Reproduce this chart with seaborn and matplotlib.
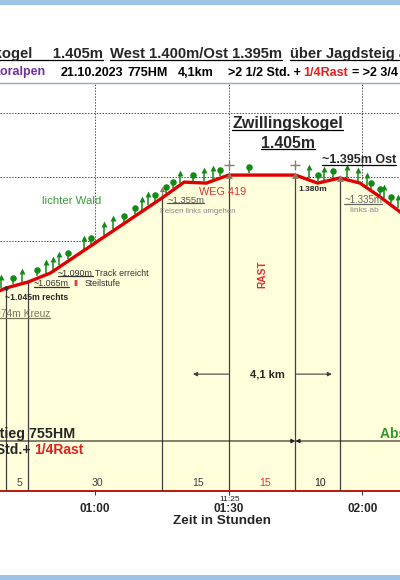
import matplotlib.pyplot as plt
from matplotlib.lines import Line2D
from matplotlib.patches import Rectangle
import numpy as np
import pandas as pd
import seaborn as sns

# Hoehenprofil: Gehzeit in Minuten, Hoehe in Metern
profile_min = [38.5, 40, 45, 50, 61, 75, 80, 85, 90, 105, 110, 115, 119.5, 124, 128.5, 132]
profile_elev = [1044, 1053, 1072, 1100, 1203, 1334, 1384, 1381, 1406, 1406, 1381, 1397, 1381, 1338, 1291, 1255]

# Wegpunkte mit senkrechten Linien
event_min = [40, 45, 75, 90, 105, 115]
event_elev = [1053, 1072, 1334, 1406, 1406, 1397]
segment_labels = ['5', '30', '15', '15', '10']
segment_colors = ['#404040', '#404040', '#404040', '#E03030', '#202020']

tick_min = [60, 90, 120]
tick_labels = ['01:00', '01:30', '02:00']
grid_elev = [1200, 1400, 1600]

# Baeume entlang des Weges
conifer_min = [39, 43.5, 49, 50.5, 52, 57.5, 62, 64, 70.5, 72, 79, 84.5, 86.5,
               108, 111.5, 116.5, 119, 121, 125, 128]
leafy_min = [41.5, 47, 54, 59, 66.5, 69, 73.5, 76, 77.5, 82, 88, 94.5,
             110, 113.5, 122, 124, 126.5]

summit_min = [90, 105]
summit_elev = [1406, 1406]

RED = '#E00000'
GREEN = '#138A13'
MARK = '#8A7A6A'
DARK = '#404040'

sns.set_theme(style='white')
plt.rcParams['font.family'] = ['Liberation Sans', 'DejaVu Sans']

fig = plt.figure(figsize=(4, 5.8), dpi=100)
fig.patch.set_facecolor('white')
W, H = 400, 580
ax = fig.add_axes([0, 89 / H, 1, 408 / H])
y0, y1 = 418.75, 1693.75
ax.set_xlim(38.667, 128.488)
ax.set_ylim(y0, y1)
ax.set_facecolor('white')

df = pd.DataFrame({'min': profile_min, 'elev': profile_elev})
ax.fill_between(df['min'], df['elev'], y0, color='#FFFFDC', lw=0, zorder=1)
sns.lineplot(data=df, x='min', y='elev', color=RED, lw=2.4, ax=ax, zorder=6)

ax.set_xticks(tick_min, labels=tick_labels)
ax.set_yticks(grid_elev)
ax.grid(True, linestyle=(0, (1.5, 1.5)), color='#505050', linewidth=0.7)
ax.set_axisbelow(True)
ax.tick_params(axis='y', left=False, labelleft=False)
ax.tick_params(axis='x', bottom=True, direction='out', length=3, width=0.8,
               color=DARK, labelsize=8.5, pad=6)
for lab in ax.get_xticklabels():
    lab.set_fontweight('bold')
ax.set_xlabel('')
ax.set_ylabel('')
ax.spines['left'].set_visible(False)
ax.spines['right'].set_visible(False)
ax.spines['top'].set_color('#8FA8C8')
ax.spines['top'].set_linewidth(1)
ax.spines['bottom'].set_color('#C00000')
ax.spines['bottom'].set_linewidth(1.3)

ax.vlines(event_min, y0, event_elev, color=DARK, lw=0.9, zorder=3)
ax.vlines([75], 1334, 1362, color=MARK, lw=0.9, zorder=5)
ax.scatter([75], [1362], marker='^', s=14, color=MARK, lw=0, zorder=5)
ax.scatter(event_min[3:], event_elev[3:], marker='^', s=24, color=MARK, lw=0, zorder=7)
ax.scatter(event_min[:1], event_elev[:1], marker='o', s=10, color='#303030', lw=0, zorder=7)
ax.scatter(summit_min, np.array(summit_elev) + 31, marker='+', s=50, color=MARK, lw=1, zorder=7)

con_base = np.interp(conifer_min, profile_min, profile_elev) + 6
ax.vlines(conifer_min, con_base, con_base + 34, color=GREEN, lw=1.1, zorder=5)
ax.scatter(conifer_min, con_base + 34, marker='^', s=18, color=GREEN, lw=0, zorder=5)
leaf_base = np.interp(leafy_min, profile_min, profile_elev) + 6
ax.vlines(leafy_min, leaf_base, leaf_base + 14, color=GREEN, lw=1.1, zorder=5)
ax.scatter(leafy_min, leaf_base + 19, marker='o', s=22, color=GREEN, lw=0, zorder=5)

underlined = []


def label(x, y, s, ul=None, **kw):
    kw.setdefault('va', 'center')
    t = ax.text(x, y, s, zorder=8, **kw)
    if ul:
        underlined.append((t, ul))
    return t


label(54.8, 1325, 'lichter Wald', color='#3A9A3A', fontsize=8.2, ha='center')
label(39.8, 1025, '~1.045m rechts', fontsize=6.2, weight='bold')
label(49.9, 972, '~974m Kreuz', ul='#77775A', fontsize=7.4, color='#77775A', ha='right')
label(46.3, 1066, '~1.065m', ul='#333333', fontsize=6.4, color='#333333')
label(55.6, 1066, 'II', fontsize=6.6, color='#E03030', weight='bold', ha='center')
label(57.6, 1066, 'Steilstufe', fontsize=6.3, color='#333333')
label(51.7, 1100, '~1.090m', ul='#333333', fontsize=6.4, color='#333333')
label(60.0, 1100, 'Track erreicht', fontsize=6.3, color='#333333')
label(76.2, 1328, '~1.355m', ul='#555555', fontsize=6.8, color='#555555')
label(74.6, 1291, 'Felsen links umgehen', fontsize=5.6, color='#8A8A8A')
label(88.7, 1353, 'WEG 419', fontsize=7.8, color='#E03030', ha='center')
label(103.3, 1566, 'Zwillingskogel', ul='black', fontsize=11.5, weight='bold', ha='center')
label(103.3, 1506, '1.405m', ul='black', fontsize=11.3, weight='bold', ha='center')
label(111.0, 1453, '~1.395m Ost', ul='black', fontsize=9, weight='bold')
label(109.0, 1362, '1.380m', fontsize=6, weight='bold', ha='center')
label(120.2, 1328, '~1.335m', ul='#666666', fontsize=7, color='#666666', ha='center')
label(120.6, 1294, 'links ab', fontsize=6, color='#8A8A8A', ha='center')
label(97.5, 1097, 'RAST', fontsize=7.4, weight='bold', color='#E03030', rotation=90, ha='center')
label(98.8, 784, '4,1 km', fontsize=8, weight='bold', ha='center')

arrow = dict(arrowstyle='-|>', color=DARK, lw=0.8, mutation_scale=6, shrinkA=0, shrinkB=0)
ax.annotate('', xy=(82, 784), xytext=(90, 784), arrowprops=arrow, zorder=8)
ax.annotate('', xy=(113.2, 784), xytext=(105, 784), arrowprops=arrow, zorder=8)
arrow2 = dict(arrowstyle='-|>', color='#202020', lw=0.8, mutation_scale=6, shrinkA=0, shrinkB=0)
ax.annotate('', xy=(105, 575), xytext=(30, 575), arrowprops=arrow2, zorder=8, annotation_clip=False)
ax.annotate('', xy=(105, 575), xytext=(140, 575), arrowprops=arrow2, zorder=8, annotation_clip=False)

label(55.5, 597, 'Aufstieg 755HM', fontsize=10.3, weight='bold', ha='right')
label(45.6, 547, '1 1/4 Std.+', fontsize=10, weight='bold', ha='right')
label(46.4, 547, '1/4Rast', fontsize=10, weight='bold', color='#E02020')
label(124.0, 597, 'Abstieg 755HM', fontsize=10, weight='bold', color='#2E9A2E')

for a, b, s, c in zip(event_min[:-1], event_min[1:], segment_labels, segment_colors):
    label((a + b) / 2 + 0.6, 444, s, fontsize=7.6, color=c, ha='center')

ax.text(90.3, -0.02, '11:25', transform=ax.get_xaxis_transform(), fontsize=6,
        ha='center', va='center', color='#202020')
fig.text(222 / W, 1 - 521 / H, 'Zeit in Stunden', fontsize=9.7, weight='bold',
         ha='center', va='center')

# Kopfzeilen
ty = 1 - 54 / H
t1 = fig.text(103 / W, ty, 'Zwillingskogel     1.405m', fontsize=10.6, weight='bold', ha='right', va='center')
t2 = fig.text(110 / W, ty, 'West 1.400m/Ost 1.395m', fontsize=10.6, weight='bold', va='center')
t3 = fig.text(290 / W, ty, 'über Jagdsteig auf den Gipfel', fontsize=10.6, weight='bold', va='center')
for t in (t1, t2, t3):
    underlined.append((t, 'black'))
sy = 1 - 72.5 / H
fig.text(45 / W, sy, 'Koralpen', fontsize=9, weight='bold', color='#7030A0', ha='right', va='center')
for xp, s, c in [(61, '21.10.2023', 'black'), (128, '775HM', 'black'), (178, '4,1km', 'black'),
                 (228, '>2 1/2 Std. +', 'black'), (303, '1/4Rast', '#E02020'),
                 (352, '= >2 3/4 Std.', 'black')]:
    fig.text(xp / W, sy, s, fontsize=9, weight='bold', color=c, va='center')

fig.add_artist(Rectangle((0, 1 - 5 / H), 1, 5 / H, transform=fig.transFigure, color='#9DC3E6', lw=0))
fig.add_artist(Rectangle((0, 0), 1, 5 / H, transform=fig.transFigure, color='#9DC3E6', lw=0))

fig.canvas.draw()
r = fig.canvas.get_renderer()
for t, c in underlined:
    bb = t.get_window_extent(r)
    yy = (bb.y0 + 1.2) / H
    fig.add_artist(Line2D([bb.x0 / W, bb.x1 / W], [yy, yy], color=c, lw=0.9))

fig.savefig('out.png', dpi=100)
